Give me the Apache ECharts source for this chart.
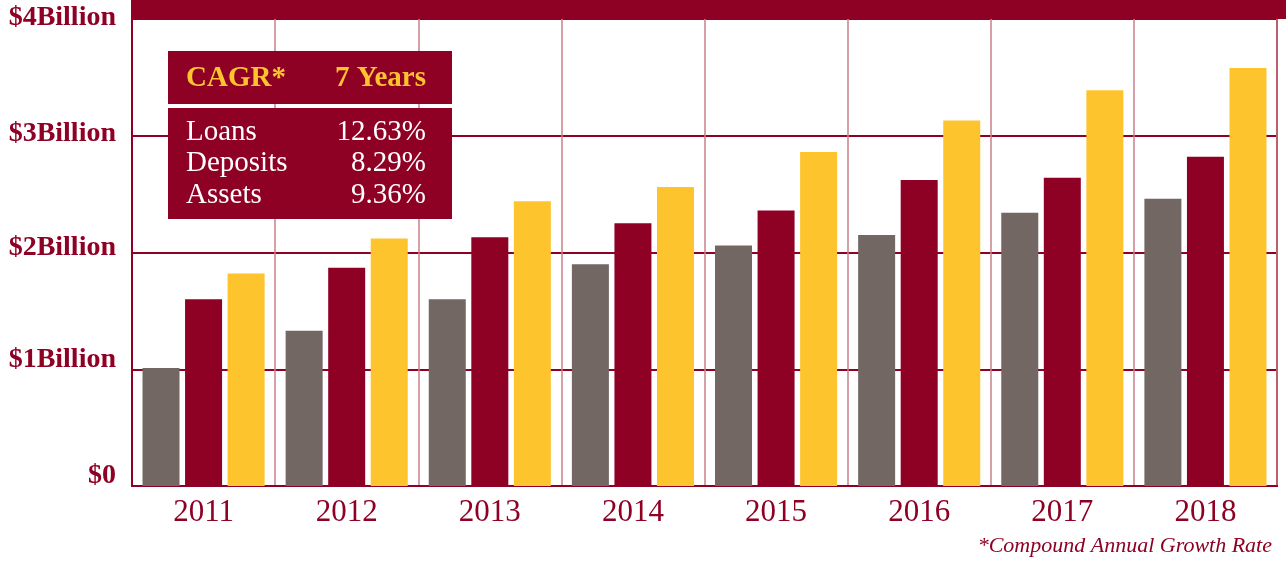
<!DOCTYPE html>
<html>
<head>
<meta charset="utf-8">
<script src="https://cdn.jsdelivr.net/npm/echarts@6/dist/echarts.min.js"></script>
<style>
  html, body { margin: 0; padding: 0; background: #fff; }
  #chart { width: 1286px; height: 563px; }
</style>
</head>
<body>
<div id="chart"></div>
<script>
// values in $ billions
const years = ['2011', '2012', '2013', '2014', '2015', '2016', '2017', '2018'];
const loans = [1.01, 1.33, 1.60, 1.90, 2.06, 2.15, 2.34, 2.46];
const deposits = [1.60, 1.87, 2.13, 2.25, 2.36, 2.62, 2.64, 2.82];
const assets = [1.82, 2.12, 2.44, 2.56, 2.86, 3.13, 3.39, 3.58];
const yTickLabels = ['$0', '$1Billion', '$2Billion', '$3Billion', '$4Billion'];

// CAGR box
const cagrHeader = ['CAGR*', '7 Years'];
const cagrNames = ['Loans', 'Deposits', 'Assets'];
const cagrValues = ['12.63%', '8.29%', '9.36%'];
const footnote = '*Compound Annual Growth Rate';

const RED = '#8f0025';
const GRAY = '#726762';
const GOLD = '#fec42e';
const SERIF = '"Liberation Serif", "DejaVu Serif", serif';

const chart = echarts.init(document.getElementById('chart'));

/* table rows of the CAGR box */
const rowY = [132, 163, 195];
const rows = [];
cagrNames.forEach((name, i) => {
  rows.push({
    type: 'text', x: 186, y: rowY[i],
    style: { text: name, fill: '#fff', font: `29px ${SERIF}`, verticalAlign: 'middle' },
  });
  rows.push({
    type: 'text', x: 426, y: rowY[i],
    style: { text: cagrValues[i], fill: '#fff', font: `29px ${SERIF}`, align: 'right', verticalAlign: 'middle' },
  });
});

/* y labels sit a little above their grid lines, lower ones a bit more */
const yLabelLift = [20, 18, 10, 4, 2];
const yRich = {};
yLabelLift.forEach((lh, i) => {
  yRich[`l${i}`] = {
    color: RED, fontFamily: SERIF, fontSize: 28, fontWeight: 'bold', lineHeight: lh,
  };
});

const bar = (name, data, color) => ({
  name,
  type: 'bar',
  data,
  barWidth: 37,
  barGap: '15%',
  itemStyle: { color },
  emphasis: { disabled: true },
});

chart.setOption({
  animation: false,
  grid: {
    left: 132, right: 9, top: 19, bottom: 77,
    outerBoundsMode: 'none',
    show: true, borderColor: RED, borderWidth: 2,
  },
  xAxis: {
    type: 'category',
    data: years,
    axisTick: { show: false },
    axisLine: { lineStyle: { color: RED, width: 2 } },
    axisLabel: { color: RED, fontFamily: SERIF, fontSize: 31, margin: 11 },
    splitLine: { show: true, interval: 0, lineStyle: { color: '#c98088', width: 1.5 } },
  },
  yAxis: {
    type: 'value',
    min: 0, max: 4, interval: 1,
    axisLine: { show: true, lineStyle: { color: RED, width: 2 } },
    axisTick: { show: false },
    axisLabel: {
      color: RED, fontFamily: SERIF, fontSize: 28, fontWeight: 'bold', margin: 16,
      verticalAlign: 'bottom',
      formatter: (v) => {
        const i = Math.round(v);
        return `{l${i}|${yTickLabels[i]}}`;
      },
      rich: yRich,
    },
    splitLine: { lineStyle: { color: RED, width: 2 } },
  },
  series: [
    bar('Loans', loans, GRAY),
    bar('Deposits', deposits, RED),
    bar('Assets', assets, GOLD),
  ],
  graphic: [
    /* top band */
    { type: 'rect', shape: { x: 131, y: 0, width: 1155, height: 19 }, style: { fill: RED }, z: 10 },
    /* CAGR box */
    { type: 'rect', shape: { x: 168, y: 51, width: 284, height: 53 }, style: { fill: RED }, z: 10 },
    { type: 'rect', shape: { x: 168, y: 108, width: 284, height: 111 }, style: { fill: RED }, z: 10 },
    {
      type: 'text', x: 186, y: 79, z: 11,
      style: { text: cagrHeader[0], fill: GOLD, font: `bold 29px ${SERIF}`, verticalAlign: 'middle' },
    },
    {
      type: 'text', x: 426, y: 79, z: 11,
      style: { text: cagrHeader[1], fill: GOLD, font: `bold 29px ${SERIF}`, align: 'right', verticalAlign: 'middle' },
    },
    ...rows.map((r) => ({ ...r, z: 11 })),
    /* footnote */
    {
      type: 'text', x: 1272, y: 546, z: 11,
      style: { text: footnote, fill: RED, font: `italic 22px ${SERIF}`, align: 'right', verticalAlign: 'middle' },
    },
  ],
});
</script>
</body>
</html>
